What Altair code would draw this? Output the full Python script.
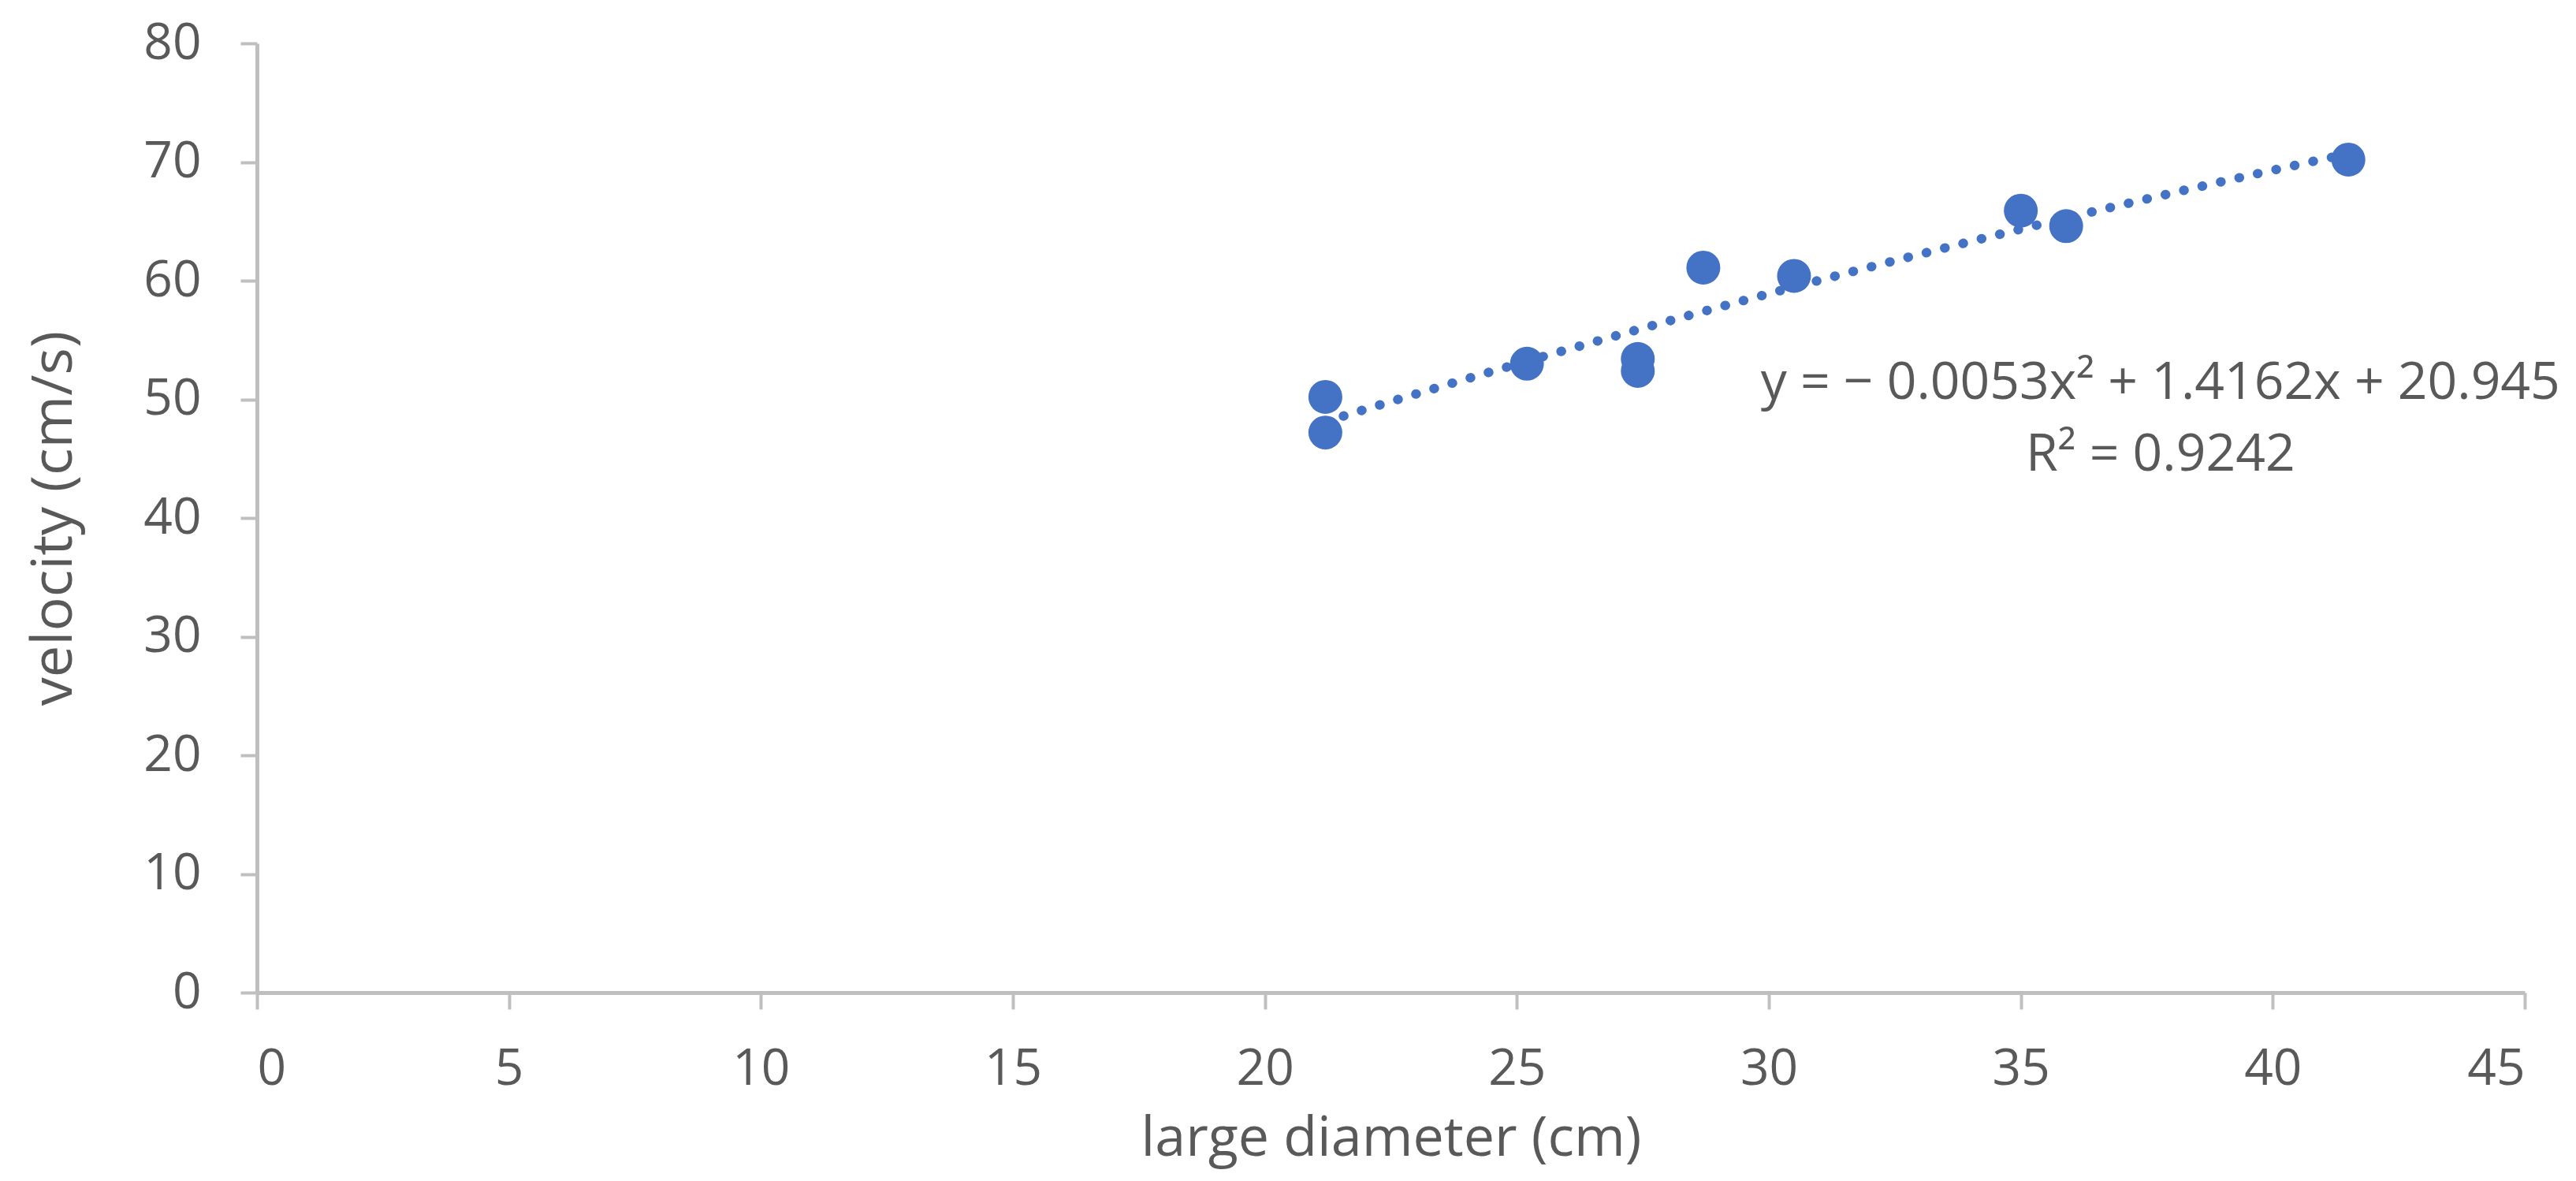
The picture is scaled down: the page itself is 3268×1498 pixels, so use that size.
import altair as alt
import pandas as pd

# values
diameter = [21.2, 21.2, 25.2, 27.4, 27.4, 28.7, 30.5, 35.0, 35.9, 41.5]
velocity = [50.2, 47.2, 53.0, 53.4, 52.4, 61.1, 60.4, 65.9, 64.6, 70.2]
x_ticks = [0, 5, 10, 15, 20, 25, 30, 35, 40, 45]
y_ticks = [0, 10, 20, 30, 40, 50, 60, 70, 80]
eq_lines = ["y = \u2212 0.0053x\u00b2 + 1.4162x + 20.945", "R\u00b2 = 0.9242"]

FONT = "Open Sans"
TEXT = "#595959"
AXIS = "#BFBFBF"
BLUE = "#4472C4"

df = pd.DataFrame({"diameter": diameter, "velocity": velocity})

x_enc = alt.X(
    "diameter:Q",
    title="large diameter (cm)",
    scale=alt.Scale(domain=[0, 45], nice=False, zero=False),
    axis=alt.Axis(values=x_ticks, format="d", labelPadding=44, titlePadding=22, titleFontSize=70),
)
y_enc = alt.Y(
    "velocity:Q",
    title="velocity (cm/s)",
    scale=alt.Scale(domain=[0, 80], nice=False),
    axis=alt.Axis(values=y_ticks, format="d", labelPadding=50, titlePadding=76),
)

points = alt.Chart(df).mark_circle(size=1850, color=BLUE, opacity=1).encode(x=x_enc, y=y_enc)

trend = (
    alt.Chart(df)
    .transform_regression("diameter", "velocity", method="poly", order=2)
    .mark_line(color=BLUE, strokeWidth=12, strokeDash=[0.5, 23.5], strokeCap="round")
    .encode(x="diameter:Q", y="velocity:Q")
)

eq1 = alt.Chart(pd.DataFrame({"t": [eq_lines[0]]})).mark_text(
    font=FONT, fontSize=66, color=TEXT, align="center", baseline="middle"
).encode(x=alt.datum(37.77), y=alt.datum(51.33), text="t:N")

eq2 = alt.Chart(pd.DataFrame({"t": [eq_lines[1]]})).mark_text(
    font=FONT, fontSize=66, color=TEXT, align="center", baseline="middle"
).encode(x=alt.datum(37.77), y=alt.datum(45.32), text="t:N")

chart = (
    alt.layer(points, trend, eq1, eq2)
    .properties(
        width=2877,
        height=1204,
        autosize=alt.AutoSizeParams(type="none"),
        padding={"left": 318, "top": 47, "right": 50, "bottom": 231},
        background="white",
    )
    .configure_view(stroke=None)
    .configure_axis(
        grid=False,
        domainColor=AXIS,
        domainWidth=5,
        tickColor=AXIS,
        tickWidth=4,
        tickSize=21,
        labelFont=FONT,
        labelFontSize=64,
        labelColor=TEXT,
        titleFont=FONT,
        titleFontSize=72,
        titleFontWeight="normal",
        titleColor=TEXT,
    )
)

chart.save("out.html", embed_options={"renderer": "svg", "actions": False})
